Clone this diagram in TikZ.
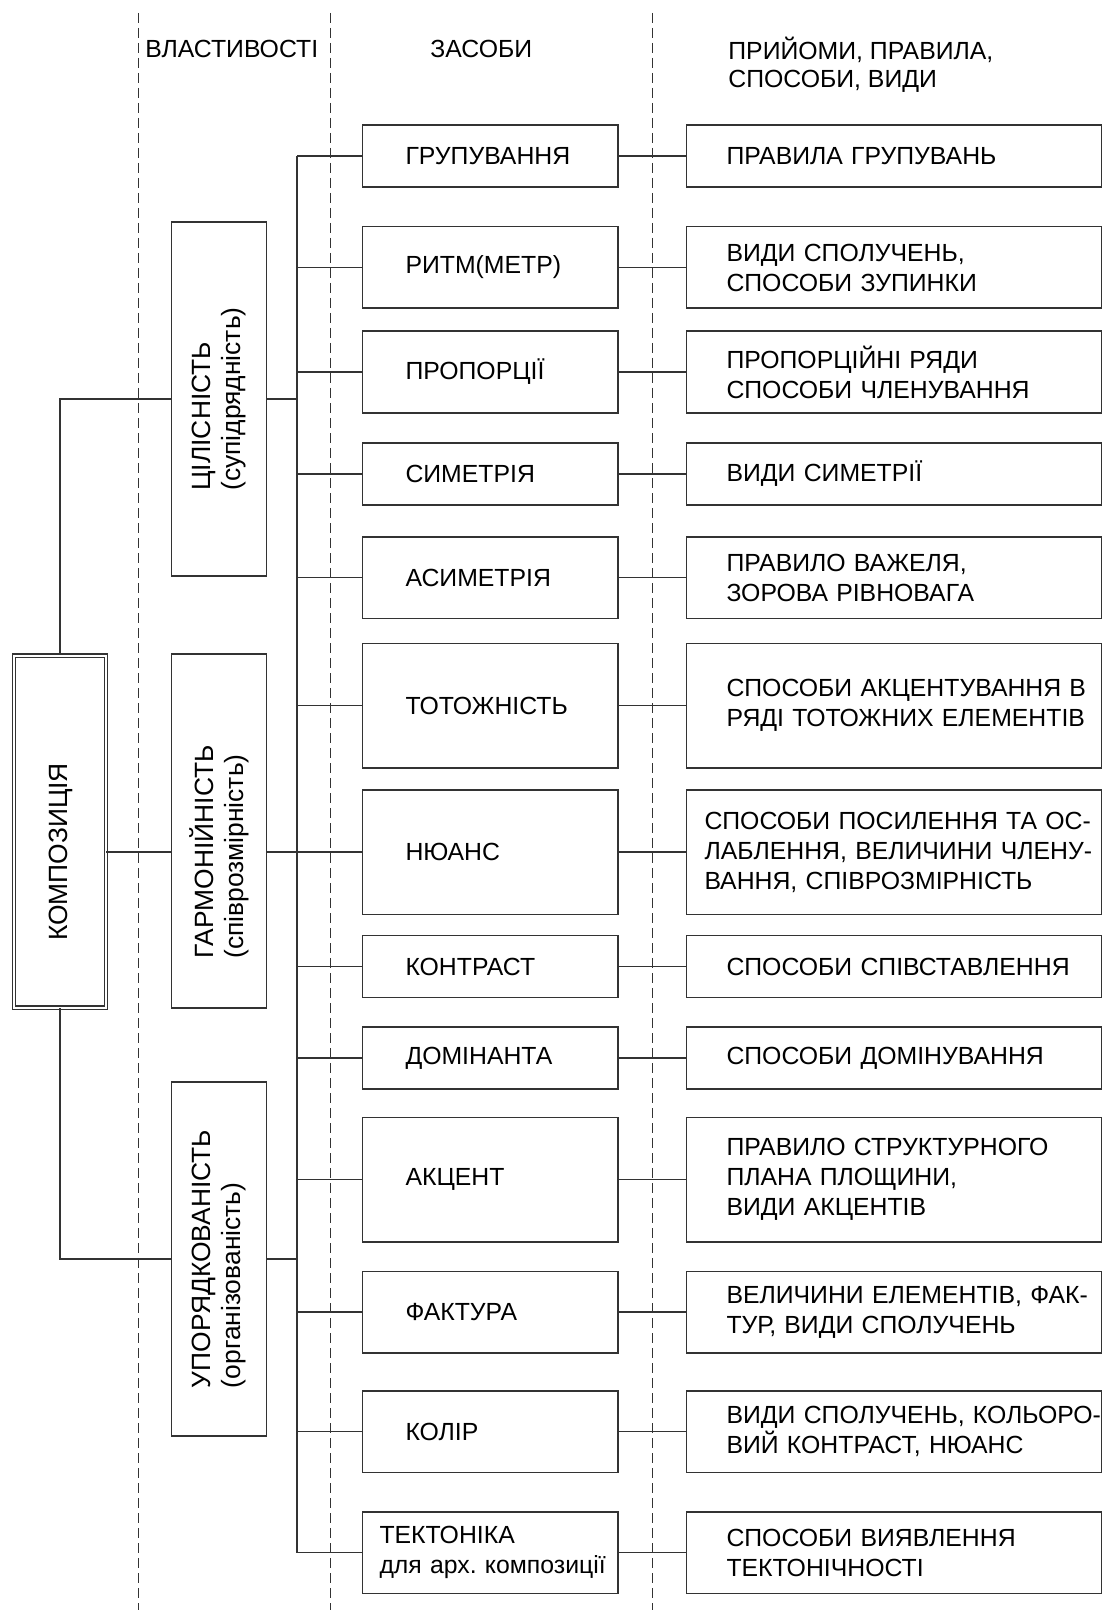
\documentclass[tikz,border=0pt]{standalone}
\usepackage{fontspec}
\setmainfont{Liberation Sans}
\usetikzlibrary{positioning}
% no line breaks after the explicit hyphens
\exhyphenpenalty=10000
\hyphenpenalty=10000

\begin{document}
\begin{tikzpicture}[
    x=0.5pt, y=-0.5pt,
    node distance=33.5pt,
    every node/.style={font=\fontsize{12.4}{15}\selectfont, text=black},
    wire/.style={draw=black!80, line width=0.75pt},
    box/.style={rectangle, wire, align=left, inner ysep=2pt},
    sbox/.style={box, minimum height=31pt},
    mbox/.style={box, minimum height=40.75pt},
    lbox/.style={box, minimum height=62.25pt},
    means/.style={text width=84.75pt, inner xsep=21.5pt},
    rules/.style={text width=167.5pt, inner xsep=20pt},
    propbox/.style={rectangle, wire, minimum width=47.5pt, minimum height=177pt},
    vlabel/.style={rotate=90, align=left, inner sep=0pt, font=\fontsize{13.2}{15}\selectfont},
    header/.style={inner sep=0pt},
    divider/.style={draw=black!80, line width=0.45pt, dash pattern=on 5pt off 2.5pt}
]
    \useasboundingbox (0,0) rectangle (1102,1610);

    % Column dividers
    \draw[divider] (138,13) -- (138,1610);
    \draw[divider] (330,13) -- (330,1610);
    \draw[divider] (652,13) -- (652,1610);

    % Headers
    \node[header, anchor=base west] (hprops) at (145,58) {ВЛАСТИВОСТІ};
    \node[header, anchor=base west] (hmeans) at (430,58) {ЗАСОБИ};
    \node[header, anchor=west, align=left, font=\fontsize{12.4}{14}\selectfont] (hrules) at (728,65) {ПРИЙОМИ, ПРАВИЛА,\\СПОСОБИ, ВИДИ};

    % Composition
    \node[propbox, double, double distance=1pt, line width=0.6pt, minimum width=45.8pt, minimum height=176pt] (komp) at (59.9,831.5) {};
    \node[vlabel] (komp-t) at (61,852) {КОМПОЗИЦІЯ};

    % Properties
    \node[propbox] (unity) at (219.2,399) {};
    \node[vlabel] (unity-t) at (unity) {ЦІЛІСНІСТЬ\\(супідрядність)};
    \node[propbox] (harmony) at (219.2,831) {};
    \node[vlabel] (harmony-t) at (219.2,852) {ГАРМОНІЙНІСТЬ\\(співрозмірність)};
    \node[propbox] (order) at (219.2,1259) {};
    \node[vlabel] (order-t) at (order) {УПОРЯДКОВАНІСТЬ\\(організованість)};

    % Means
    \node[sbox, means] (grouping) at (490.25,156) {ГРУПУВАННЯ};
    \node[mbox, means] (rhythm) at (490.25,267.5) {РИТМ(МЕТР)};
    \node[mbox, means] (proportion) at (490.25,372) {ПРОПОРЦІЇ};
    \node[sbox, means] (symmetry) at (490.25,474) {СИМЕТРІЯ};
    \node[mbox, means] (asymmetry) at (490.25,577.5) {АСИМЕТРІЯ};
    \node[lbox, means] (identity) at (490.25,705.5) {ТОТОЖНІСТЬ};
    \node[lbox, means] (nuance) at (490.25,852) {НЮАНС};
    \node[sbox, means] (contrast) at (490.25,966.5) {КОНТРАСТ};
    \node[sbox, means] (dominant) at (490.25,1058) {ДОМІНАНТА};
    \node[lbox, means] (accent) at (490.25,1179.5) {АКЦЕНТ};
    \node[mbox, means] (texture) at (490.25,1312) {ФАКТУРА};
    \node[mbox, means] (colour) at (490.25,1431.5) {КОЛІР};
    \node[mbox, means, text width=110.75pt, inner xsep=8.5pt] (tectonics) at (490.25,1552.5) {ТЕКТОНІКА\\для~арх.~композиції};

    % Rules, methods, kinds
    \node[sbox, rules, right=of grouping] (grouping-r) {ПРАВИЛА ГРУПУВАНЬ};
    \node[mbox, rules, right=of rhythm] (rhythm-r) {ВИДИ СПОЛУЧЕНЬ,\\СПОСОБИ ЗУПИНКИ};
    \node[mbox, rules, right=of proportion] (proportion-r) {ПРОПОРЦІЙНІ~РЯДИ\\СПОСОБИ~ЧЛЕНУВАННЯ};
    \node[sbox, rules, right=of symmetry] (symmetry-r) {ВИДИ СИМЕТРІЇ};
    \node[mbox, rules, right=of asymmetry] (asymmetry-r) {ПРАВИЛО ВАЖЕЛЯ,\\ЗОРОВА РІВНОВАГА};
    \node[lbox, rules, right=of identity] (identity-r) {СПОСОБИ~АКЦЕНТУВАННЯ~В\\РЯДІ~ТОТОЖНИХ~ЕЛЕМЕНТІВ};
    \node[lbox, rules, text width=189.5pt, inner xsep=9pt, right=of nuance] (nuance-r) {СПОСОБИ~ПОСИЛЕННЯ~ТА~ОС-\\ЛАБЛЕННЯ,~ВЕЛИЧИНИ~ЧЛЕНУ-\\ВАННЯ,~СПІВРОЗМІРНІСТЬ};
    \node[sbox, rules, right=of contrast] (contrast-r) {СПОСОБИ~СПІВСТАВЛЕННЯ};
    \node[sbox, rules, right=of dominant] (dominant-r) {СПОСОБИ~ДОМІНУВАННЯ};
    \node[lbox, rules, right=of accent] (accent-r) {ПРАВИЛО~СТРУКТУРНОГО\\ПЛАНА ПЛОЩИНИ,\\ВИДИ АКЦЕНТІВ};
    \node[mbox, rules, right=of texture] (texture-r) {ВЕЛИЧИНИ~ЕЛЕМЕНТІВ,~ФАК-\\ТУР, ВИДИ СПОЛУЧЕНЬ};
    \node[mbox, rules, right=of colour] (colour-r) {ВИДИ~СПОЛУЧЕНЬ,~КОЛЬОРО-\\ВИЙ~КОНТРАСТ,~НЮАНС};
    \node[mbox, rules, right=of tectonics] (tectonics-r) {СПОСОБИ~ВИЯВЛЕННЯ\\ТЕКТОНІЧНОСТІ};

    % Connections
    \coordinate (bus) at (297,0);
    \draw[wire] (komp.north) |- (unity.west);
    \draw[wire] (komp.east |- harmony-t) -- (harmony.west |- harmony-t);
    \draw[wire] (komp.south) |- (order.west);
    \draw[wire] (unity.east) -- (unity.east -| bus);
    \draw[wire] (harmony.east |- harmony-t) -- (harmony-t -| bus);
    \draw[wire] (order.east) -- (order.east -| bus);
    \draw[wire] (grouping.west -| bus) -- (tectonics.west -| bus);

    \draw[wire] (grouping.west -| bus) -- (grouping.west) (grouping.east) -- (grouping-r.west);
    \draw[wire] (rhythm.west -| bus) -- (rhythm.west) (rhythm.east) -- (rhythm-r.west);
    \draw[wire] (proportion.west -| bus) -- (proportion.west) (proportion.east) -- (proportion-r.west);
    \draw[wire] (symmetry.west -| bus) -- (symmetry.west) (symmetry.east) -- (symmetry-r.west);
    \draw[wire] (asymmetry.west -| bus) -- (asymmetry.west) (asymmetry.east) -- (asymmetry-r.west);
    \draw[wire] (identity.west -| bus) -- (identity.west) (identity.east) -- (identity-r.west);
    \draw[wire] (nuance.west -| bus) -- (nuance.west) (nuance.east) -- (nuance-r.west);
    \draw[wire] (contrast.west -| bus) -- (contrast.west) (contrast.east) -- (contrast-r.west);
    \draw[wire] (dominant.west -| bus) -- (dominant.west) (dominant.east) -- (dominant-r.west);
    \draw[wire] (accent.west -| bus) -- (accent.west) (accent.east) -- (accent-r.west);
    \draw[wire] (texture.west -| bus) -- (texture.west) (texture.east) -- (texture-r.west);
    \draw[wire] (colour.west -| bus) -- (colour.west) (colour.east) -- (colour-r.west);
    \draw[wire] (tectonics.west -| bus) -- (tectonics.west) (tectonics.east) -- (tectonics-r.west);
\end{tikzpicture}
\end{document}
